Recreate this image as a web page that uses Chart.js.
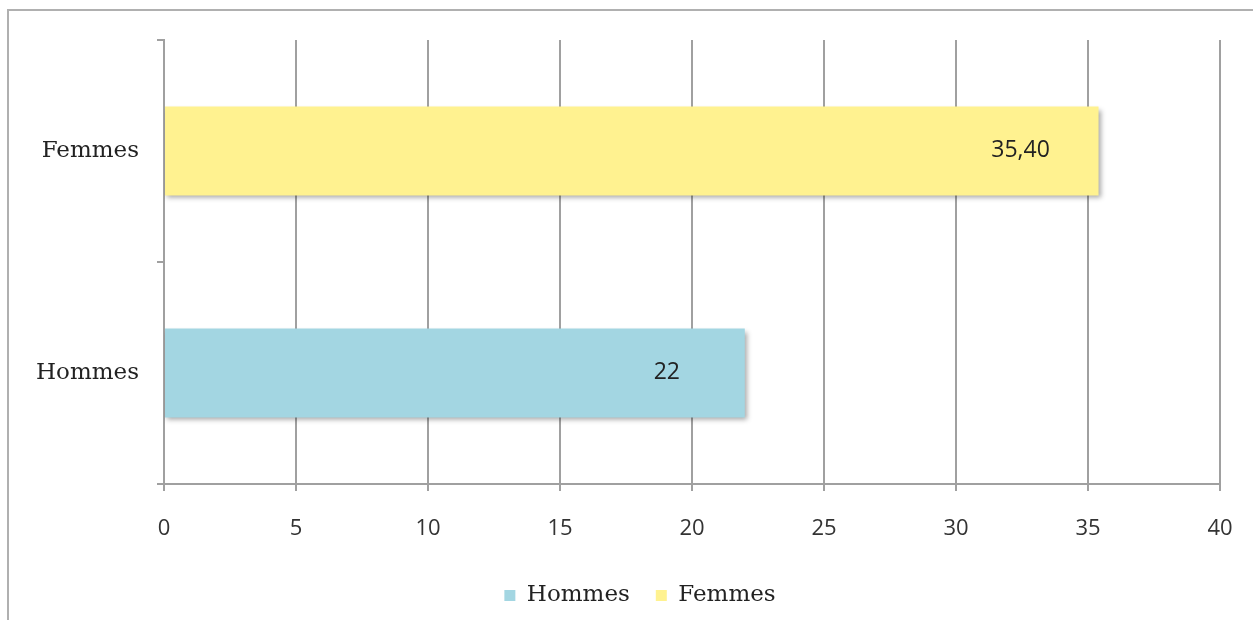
<!DOCTYPE html>
<html>
<head>
<meta charset="utf-8">
<script src="https://cdn.jsdelivr.net/npm/chart.js@4/dist/chart.umd.min.js"></script>
<style>
  html, body { margin: 0; padding: 0; background: #fff; }
  #wrap { position: relative; width: 1253px; height: 620px; overflow: hidden; }
  #frame { position: absolute; left: 7px; top: 9px; width: 1400px; height: 800px; border: 2px solid #b0b0b0; box-sizing: border-box; }
  #c { position: absolute; left: 0; top: 0; }
</style>
</head>
<body>
<div id="wrap">
  <div id="frame"></div>
  <canvas id="c" width="1253" height="620"></canvas>
</div>
<script>
const categories = ['Hommes', 'Femmes'];
const seriesNames = ['Hommes', 'Femmes'];
const hommesValues = [22, null];
const femmesValues = [null, 35.4];
const valueLabels = [['22', null], [null, '35,40']];
const xTicks = [0, 5, 10, 15, 20, 25, 30, 35, 40];
const colors = ['#A3D6E2', '#FFF290'];

const shadowLabels = {
  id: 'shadowLabels',
  afterLayout(chart) {
    if (chart.legend) { chart.legend.left += 30; chart.legend.right += 30; }
  },
  beforeDatasetsDraw(chart) {
    const ctx = chart.ctx;
    ctx.save();
    ctx.shadowColor = 'rgba(0,0,0,0.35)';
    ctx.shadowBlur = 5;
    ctx.shadowOffsetX = 2;
    ctx.shadowOffsetY = 3;
  },
  afterDatasetsDraw(chart) {
    const ctx = chart.ctx;
    ctx.restore();
    ctx.save();
    ctx.font = '23px "Open Sans"';
    ctx.fillStyle = '#222';
    ctx.textAlign = 'center';
    ctx.textBaseline = 'middle';
    chart.data.datasets.forEach((ds, di) => {
      const meta = chart.getDatasetMeta(di);
      meta.data.forEach((el, i) => {
        const t = valueLabels[di][i];
        if (t == null || ds.data[i] == null) return;
        ctx.fillText(t, el.x - 78, el.y - 1);
      });
    });
    ctx.restore();
  }
};

new Chart(document.getElementById('c'), {
  type: 'bar',
  data: {
    labels: categories,
    datasets: [
      { label: seriesNames[0], data: hommesValues, backgroundColor: colors[0], borderWidth: 0 },
      { label: seriesNames[1], data: femmesValues, backgroundColor: colors[1], borderWidth: 0 }
    ]
  },
  options: {
    indexAxis: 'y',
    responsive: false,
    animation: false,
    layout: { padding: { top: 40, left: 0, right: 33, bottom: 3 } },
    datasets: { bar: { categoryPercentage: 1, barPercentage: 0.4 } },
    scales: {
      x: {
        min: 0, max: 40,
        afterBuildTicks: (s) => { s.ticks = xTicks.map(v => ({ value: v })); },
        afterFit: (s) => { s.height = 74; s.paddingLeft = 0; s.paddingRight = 0; },
        grid: { color: '#a0a0a0', lineWidth: 2, tickLength: 7, drawTicks: true },
        border: { display: true, color: '#a0a0a0', width: 2 },
        ticks: { font: { family: '"Open Sans"', size: 22 }, color: '#333', padding: 25, maxRotation: 0 }
      },
      y: {
        stacked: true,
        reverse: true,
        afterFit: (s) => { s.width = 164; s.paddingTop = 0; s.paddingBottom = 0; },
        grid: { offset: true, drawOnChartArea: false, color: '#a0a0a0', lineWidth: 2, tickLength: 7 },
        border: { display: true, color: '#a0a0a0', width: 2 },
        ticks: { font: { family: '"DejaVu Serif"', size: 23 }, color: '#222', padding: 18 }
      }
    },
    plugins: {
      legend: {
        position: 'bottom',
        labels: { boxWidth: 11, boxHeight: 11, padding: 26, font: { family: '"DejaVu Serif"', size: 23 }, color: '#222' }
      },
      tooltip: { enabled: false }
    }
  },
  plugins: [shadowLabels]
});
</script>
</body>
</html>
